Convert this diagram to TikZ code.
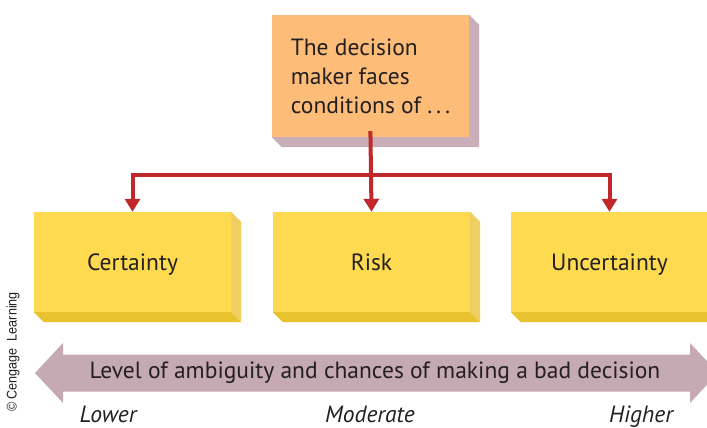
\documentclass[tikz,border=0pt]{standalone}
\usepackage{fontspec}
\setmainfont{PT Sans}
\newfontfamily\creditfont[FakeStretch=0.9]{Liberation Sans}
\usetikzlibrary{arrows.meta}

\definecolor{peach}{HTML}{FDBD78}
\definecolor{mauve}{HTML}{C9AEB7}
\definecolor{lemon}{HTML}{FDDA4F}
\definecolor{lemonside}{HTML}{EFCF62}
\definecolor{lemonbase}{HTML}{E8C22F}
\definecolor{linkred}{HTML}{C0282B}
\definecolor{scalemauve}{HTML}{C6AAB3}
\definecolor{ink}{HTML}{231F20}

\tikzset{
	front/.style = {minimum width = 197pt, inner sep = 0pt, text = ink, font = \fontsize{23.5}{29}\selectfont},
	condition/.style = {front, fill = lemon, minimum height = 100pt, text height = 19pt, text depth = 3pt},
	link/.style = {draw = linkred, line width = 4pt, -{Triangle[width = 15pt, length = 13pt]}},
	level/.style = {text = ink, font = \fontsize{23.5}{27}\selectfont\itshape}
}

% side and bottom faces of a box
\newcommand{\slab}[3]{
	\fill[#2] (#1.north east) -- ++(10,10) -- ([shift = {(10,10)}]#1.south east) -- (#1.south east) -- cycle;
	\fill[#3] (#1.south west) -- (#1.south east) -- ([shift = {(10,10)}]#1.south east) -- ([shift = {(10,10)}]#1.south west) -- cycle;
}

\begin{document}
\begin{tikzpicture}[x = 1pt, y = -1pt]
	\useasboundingbox (0,0) rectangle (707,428);

	\node[front, fill = peach, minimum height = 122pt, align = left] (faces) at (370.5,76) {The decision\\maker faces\\conditions of\ .\,.\,.};
	\slab{faces}{mauve}{mauve}

	\node[condition] (certainty) at (132.5,262) {Certainty};
	\node[condition] (risk) at (371.5,262) {Risk};
	\node[condition] (uncertainty) at (609.5,262) {Uncertainty};
	\slab{certainty}{lemonside}{lemonbase}
	\slab{risk}{lemonside}{lemonbase}
	\slab{uncertainty}{lemonside}{lemonbase}

	\coordinate (bus) at (370,175);
	\draw[link, shorten <= -6pt] (faces.south) -- (risk.north);
	\draw[link] (bus) -| (certainty.north);
	\draw[link] (bus) -| (uncertainty.north);

	% ambiguity scale
	\fill[scalemauve] (35,373) -- (63,343) -- (63,354.5) -- (690,354.5) -- (690,343) -- (718,373)
		-- (690,403) -- (690,391.5) -- (63,391.5) -- (63,403) -- cycle;
	\node[text = ink, font = \fontsize{23.5}{27}\selectfont] (ambiguity) at (375,373) {Level of ambiguity and chances of making a bad decision};

	\node[level, anchor = base] (lower) at (108,422) {Lower};
	\node[level, anchor = base] (moderate) at (370,422) {Moderate};
	\node[level, anchor = base] (higher) at (641,422) {Higher};

	\node[rotate = 90, text = ink, font = \creditfont\fontsize{14}{16}\selectfont] (credit) at (13,352) {\textcopyright\ Cengage\ \ Learning};
\end{tikzpicture}
\end{document}
